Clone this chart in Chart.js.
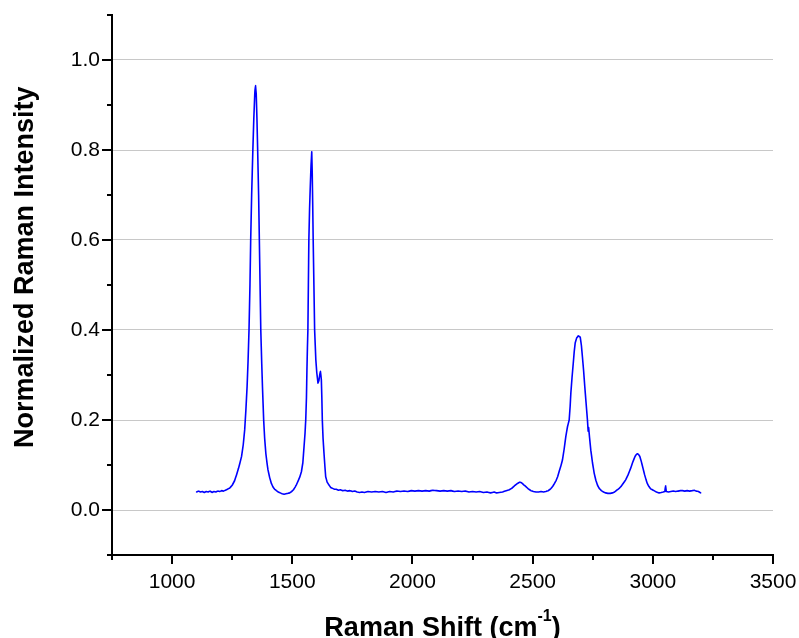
<!DOCTYPE html>
<html lang="en">
<head>
<meta charset="UTF-8">
<title>Raman Spectrum</title>
<script src="https://cdn.jsdelivr.net/npm/chart.js"></script>
<style>
  html, body { margin: 0; padding: 0; background: #fff; }
  #wrap { width: 799px; height: 638px; position: relative; }
</style>
</head>
<body>
<div id="wrap"><canvas id="raman"></canvas></div>
<script>
// Raman shift (cm-1)
const ramanShift = [
  1102,1110,1118,1126,1134,1142,1150,1158,1166,1174,
  1182,1190,1198,1206,1214,1222,1230,1240,1250,1260,
  1268,1276,1283,1289,1296,1302,1307,1312,1316,1320,
  1324,1327,1331,1336,1340,1344,1347,1350,1353,1356,
  1360,1363,1366,1369,1373,1376,1381,1385,1390,1395,
  1399,1406,1413,1420,1427,1434,1442,1450,1458,1466,
  1474,1482,1489,1497,1505,1512,1517,1524,1531,1538,
  1544,1549,1553,1556,1559,1561,1563,1565,1567,1569,
  1572,1575,1578,1581,1583,1585,1587,1590,1593,1598,
  1602,1607,1611,1614,1617,1619,1621,1623,1625,1628,
  1632,1636,1639,1645,1652,1660,1668,1676,1683,1692,
  1700,1710,1720,1730,1740,1750,1760,1770,1780,1790,
  1800,1815,1830,1845,1860,1875,1890,1905,1920,1935,
  1950,1965,1980,1995,2010,2025,2040,2055,2070,2085,
  2100,2115,2130,2145,2160,2175,2190,2205,2220,2235,
  2250,2265,2280,2295,2310,2325,2340,2350,2361,2375,
  2390,2403,2415,2427,2437,2447,2455,2463,2472,2482,
  2493,2503,2514,2525,2535,2545,2555,2565,2575,2583,
  2591,2598,2604,2610,2617,2624,2631,2638,2645,2652,
  2656,2659,2664,2669,2673,2677,2683,2690,2698,2703,
  2707,2712,2717,2722,2728,2731,2733,2737,2742,2749,
  2756,2763,2770,2777,2786,2795,2804,2813,2823,2832,
  2841,2850,2860,2869,2878,2887,2897,2908,2917,2926,
  2931,2936,2941,2946,2952,2959,2966,2972,2977,2984,
  2991,2998,3005,3015,3026,3035,3043,3050,3053,3056,
  3065,3075,3085,3095,3105,3115,3123,3133,3143,3153,
  3164,3172,3180,3190,3199
];

// normalized intensity, same order as ramanShift
const intensity = [
  0.040,0.042,0.040,0.041,0.039,0.041,0.040,0.042,0.039,0.041,
  0.040,0.042,0.041,0.043,0.042,0.044,0.046,0.049,0.055,0.065,
  0.078,0.092,0.106,0.119,0.145,0.178,0.222,0.274,0.330,0.400,
  0.500,0.600,0.700,0.800,0.870,0.925,0.943,0.925,0.870,0.800,
  0.700,0.600,0.500,0.400,0.325,0.274,0.200,0.160,0.126,0.104,
  0.089,0.072,0.059,0.051,0.046,0.043,0.040,0.038,0.036,0.035,
  0.036,0.037,0.038,0.041,0.045,0.051,0.056,0.064,0.073,0.085,
  0.105,0.141,0.170,0.200,0.250,0.311,0.360,0.400,0.500,0.600,
  0.670,0.720,0.765,0.796,0.750,0.680,0.600,0.500,0.400,0.334,
  0.305,0.282,0.288,0.300,0.308,0.300,0.289,0.250,0.200,0.160,
  0.126,0.095,0.074,0.062,0.056,0.050,0.048,0.046,0.046,0.044,
  0.045,0.043,0.044,0.042,0.043,0.041,0.042,0.040,0.039,0.040,
  0.039,0.041,0.040,0.041,0.040,0.041,0.039,0.041,0.040,0.042,
  0.041,0.042,0.041,0.043,0.042,0.043,0.042,0.043,0.042,0.044,
  0.043,0.042,0.043,0.042,0.043,0.041,0.042,0.041,0.042,0.040,
  0.041,0.040,0.041,0.039,0.040,0.038,0.040,0.038,0.039,0.040,
  0.043,0.045,0.049,0.055,0.059,0.062,0.060,0.056,0.052,0.047,
  0.043,0.041,0.040,0.040,0.041,0.040,0.041,0.043,0.047,0.052,
  0.059,0.066,0.074,0.085,0.097,0.111,0.135,0.163,0.185,0.200,
  0.230,0.260,0.295,0.326,0.352,0.371,0.382,0.387,0.384,0.365,
  0.341,0.310,0.274,0.240,0.200,0.175,0.183,0.160,0.133,0.105,
  0.082,0.066,0.055,0.048,0.043,0.040,0.038,0.037,0.037,0.038,
  0.040,0.044,0.048,0.053,0.060,0.067,0.078,0.093,0.107,0.119,
  0.123,0.125,0.123,0.119,0.108,0.093,0.078,0.067,0.059,0.052,
  0.047,0.045,0.043,0.040,0.038,0.039,0.040,0.041,0.054,0.041,
  0.040,0.041,0.042,0.041,0.042,0.043,0.043,0.042,0.043,0.042,
  0.043,0.044,0.042,0.041,0.038
];

const xTickValues = [1000, 1500, 2000, 2500, 3000, 3500];   // labelled x ticks
const yTickValues = [0.0, 0.2, 0.4, 0.6, 0.8, 1.0];         // labelled y ticks
const yAxisTitle = 'Normalized Raman Intensity';
const xAxisTitle = ['Raman Shift (cm', '-1', ')'];          // text, superscript, text

const FONT = '"Liberation Sans", Arial, Helvetica, sans-serif';
Chart.defaults.font.family = FONT;

function isMajorY(v) {
  return yTickValues.some(t => Math.abs(t - v) < 1e-6);
}

// outward major/minor tick marks + axis titles
const axisMarks = {
  id: 'axisMarks',
  afterDraw(chart) {
    const { ctx, chartArea, scales } = chart;
    ctx.save();
    ctx.strokeStyle = '#000';
    ctx.lineWidth = 2;
    ctx.beginPath();
    scales.x.ticks.forEach(t => {
      const px = Math.round(scales.x.getPixelForValue(t.value));
      const len = xTickValues.includes(t.value) ? 9 : 5;
      ctx.moveTo(px, chartArea.bottom);
      ctx.lineTo(px, chartArea.bottom + len);
    });
    scales.y.ticks.forEach(t => {
      const py = Math.round(scales.y.getPixelForValue(t.value));
      const len = isMajorY(t.value) ? 10 : 5;
      ctx.moveTo(chartArea.left, py);
      ctx.lineTo(chartArea.left - len, py);
    });
    ctx.stroke();

    ctx.fillStyle = '#000';
    ctx.textBaseline = 'alphabetic';

    // y title, rotated
    ctx.save();
    ctx.font = 'bold 27px ' + FONT;
    ctx.translate(33, 448);
    ctx.rotate(-Math.PI / 2);
    ctx.textAlign = 'left';
    ctx.fillText(yAxisTitle, 0, 0);
    ctx.restore();

    // x title with superscript
    const big = 'bold 27px ' + FONT;
    const small = 'bold 16px ' + FONT;
    ctx.font = big;
    const w1 = ctx.measureText(xAxisTitle[0]).width;
    const w3 = ctx.measureText(xAxisTitle[2]).width;
    ctx.font = small;
    const w2 = ctx.measureText(xAxisTitle[1]).width;
    const cx = (chartArea.left + chartArea.right) / 2;
    let x = cx - (w1 + w2 + w3) / 2;
    const base = 636;
    ctx.textAlign = 'left';
    ctx.font = big;
    ctx.fillText(xAxisTitle[0], x, base);
    x += w1;
    ctx.font = small;
    ctx.fillText(xAxisTitle[1], x, base - 15);
    x += w2;
    ctx.font = big;
    ctx.fillText(xAxisTitle[2], x, base);
    ctx.restore();
  }
};

const points = ramanShift.map((x, i) => ({ x: x, y: intensity[i] }));

new Chart(document.getElementById('raman'), {
  type: 'line',
  data: {
    datasets: [{
      data: points,
      borderColor: '#0000ff',
      borderWidth: 1.6,
      borderJoinStyle: 'round',
      borderCapStyle: 'round',
      pointRadius: 0,
      fill: false,
      tension: 0.0001   // keeps the segments straight but avoids the fast-path jags
    }]
  },
  options: {
    responsive: true,
    maintainAspectRatio: false,
    animation: false,
    layout: { padding: { top: 15, right: 26, left: 0, bottom: 0 } },
    plugins: { legend: { display: false }, tooltip: { enabled: false } },
    scales: {
      x: {
        type: 'linear',
        min: 750,
        max: 3500,
        afterFit(s) {
          s.height = 83;
          s.paddingLeft = 0;
          s.paddingRight = 0;
        },
        ticks: {
          stepSize: 250,
          autoSkip: false,
          maxRotation: 0,
          padding: 15,
          color: '#000',
          font: { size: 21 },
          callback: v => xTickValues.includes(v) ? String(v) : ''
        },
        grid: { color: 'transparent', drawTicks: false },
        border: { color: '#000', width: 2 }
      },
      y: {
        min: -0.1,
        max: 1.1,
        afterFit(s) {
          s.width = 112;
          s.paddingTop = 0;
          s.paddingBottom = 0;
        },
        ticks: {
          stepSize: 0.1,
          autoSkip: false,
          padding: 12,
          color: '#000',
          font: { size: 21 },
          callback: v => isMajorY(v) ? Number(v).toFixed(1) : ''
        },
        grid: {
          color: c => isMajorY(c.tick.value) ? '#c8c8c8' : 'transparent',
          lineWidth: 1,
          drawTicks: false
        },
        border: { color: '#000', width: 2 }
      }
    }
  },
  plugins: [axisMarks]
});
</script>
</body>
</html>
